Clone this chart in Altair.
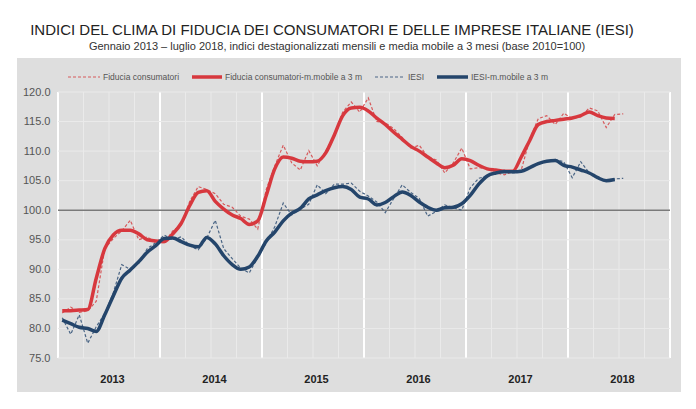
import altair as alt
import pandas as pd

# ---------------- data ----------------
YEARS = [2013, 2014, 2015, 2016, 2017, 2018]
SERIES = ["Fiducia consumatori", "Fiducia consumatori-m.mobile a 3 m",
          "IESI", "IESI-m.mobile a 3 m"]
Y_TICKS = [75, 80, 85, 90, 95, 100, 105, 110, 115, 120]
BASE = 100

# monthly, Jan 2013 - Jul 2018
CONS = [82.6, 83.6, 82.7, 83.0, 84.6, 93.5, 95.2, 96.5, 98.3, 95.0, 95.5, 94.5,
        94.5, 96.5, 97.5, 101.5, 104.0, 103.5, 102.8, 101.0, 100.5, 99.0, 98.5, 96.8,
        103.5, 107.5, 111.0, 108.0, 106.8, 110.1, 107.5, 110.0, 112.7, 116.6, 118.3, 116.6,
        119.0, 115.0, 114.8, 113.8, 112.3, 110.5, 111.0, 109.0, 108.5, 106.3, 108.0, 110.5,
        107.0, 107.2, 107.0, 106.3, 106.0, 106.5, 106.8, 112.0, 115.5, 116.0, 114.5, 116.4,
        115.5, 115.8, 117.3, 116.8, 114.0, 116.2, 116.3]
# 3-month moving average, Jan 2013 - Jun 2018
CONS_MA = [83.0, 83.0, 83.1, 83.2, 88.5, 93.5, 95.8, 96.6, 96.6, 96.0, 95.0, 94.8,
           94.7, 96.0, 97.8, 100.8, 103.0, 103.3, 101.5, 100.2, 99.2, 98.6, 97.6, 98.2,
           102.5, 107.0, 109.0, 108.8, 108.3, 108.2, 108.3, 109.7, 112.7, 116.0, 117.3, 117.4,
           116.8, 115.6, 114.5, 113.2, 112.0, 110.8, 110.0, 109.0, 108.0, 107.2, 107.6, 108.7,
           108.4, 107.6, 107.0, 106.8, 106.6, 106.6, 109.0, 111.8, 114.5, 115.0, 115.2, 115.4,
           115.6, 116.0, 116.6, 116.0, 115.6, 115.5]
IESI = [81.8, 79.0, 82.3, 77.5, 80.3, 82.5, 86.0, 90.8, 90.0, 91.0, 93.5, 94.5,
        95.8, 95.0, 95.5, 94.0, 93.3, 95.3, 98.3, 93.5, 91.8, 90.2, 89.4, 92.0,
        94.5, 97.2, 101.2, 99.2, 100.2, 101.0, 104.3, 102.8, 104.4, 104.4, 104.6, 103.2,
        102.4, 101.4, 99.6, 102.0, 104.3, 103.0, 102.0, 99.0, 99.8, 100.9, 100.4, 100.0,
        103.8, 105.4, 105.8, 106.3, 106.8, 106.3, 106.5, 107.2, 107.8, 108.3, 108.6, 108.2,
        105.5, 108.2, 106.3, 105.5, 104.8, 105.3, 105.4]
IESI_MA = [81.4, 80.8, 80.2, 80.0, 79.5, 82.3, 85.5, 88.5, 89.9, 91.3, 92.9, 94.0,
           95.2, 95.3, 94.7, 94.1, 93.8, 95.4, 94.3, 92.3, 90.8, 90.0, 90.4, 92.2,
           94.8, 96.3, 98.2, 99.5, 100.3, 101.9, 102.6, 103.3, 103.8, 104.0, 103.5, 102.2,
           101.9, 100.9, 101.3, 102.3, 103.1, 102.5, 101.4, 100.5, 100.0, 100.4, 100.5, 101.1,
           102.5, 104.4, 105.8, 106.3, 106.5, 106.5, 106.6, 107.2, 107.9, 108.3, 108.4, 107.6,
           107.3, 106.8, 106.3, 105.5, 105.0, 105.2]

TITLE = "INDICI DEL CLIMA DI FIDUCIA DEI CONSUMATORI E DELLE IMPRESE ITALIANE (IESI)"
SUBTITLE = ("Gennaio 2013 \u2013 luglio 2018, indici destagionalizzati mensili e media "
            "mobile a 3 mesi (base 2010=100)")

# ---------------- styling ----------------
FONT = "Liberation Sans, Arial, sans-serif"
RED = "#d7383e"
RED_D = "#d65a5c"
NAVY = "#24456b"
NAVY_D = "#4a6585"
COLORS = [RED_D, RED, NAVY_D, NAVY]
W, H = 612, 266

rows = []
for name, vals in zip(SERIES, [CONS, CONS_MA, IESI, IESI_MA]):
    for i, v in enumerate(vals):
        rows.append({"series": name, "t": i + 0.5, "v": v})
df = pd.DataFrame(rows)

n_months = 12 * len(YEARS)
xs = alt.Scale(domain=[0, n_months], nice=False, zero=False)
ys = alt.Scale(domain=[Y_TICKS[0], Y_TICKS[-1]], nice=False, zero=False)

x_axis = alt.Axis(values=[12 * k + 6 for k in range(len(YEARS))],
                  labelExpr=f"{YEARS[0]} + floor(datum.value / 12)",
                  grid=False, ticks=False, domain=False, title=None,
                  labelFont=FONT, labelFontSize=11, labelFontWeight="bold",
                  labelColor="#222", labelPadding=15, labelOffset=3, zindex=1)
y_axis = alt.Axis(values=Y_TICKS, format=".1f", grid=False, ticks=False,
                  domain=False, title=None, labelFont=FONT, labelFontSize=11,
                  labelColor="#555", labelPadding=8, zindex=1)

X = alt.X("t:Q", scale=xs, axis=x_axis)
Y = alt.Y("v:Q", scale=ys, axis=y_axis)
col = alt.Color("series:N", scale=alt.Scale(domain=SERIES, range=COLORS), legend=None)

one = pd.DataFrame({"a": [0]})

panel = alt.Chart(one).mark_rect(color="#dedede").encode(
    x=alt.value(-41), x2=alt.value(623), y=alt.value(-34), y2=alt.value(301))

vgrid_df = pd.DataFrame({"t": list(range(0, n_months + 1, 3))})
vgrid_df["w"] = [2.0 if t % 12 == 0 else 1.0 for t in vgrid_df["t"]]
vgrid_df["c"] = ["#ffffff" if t % 12 == 0 else "#eaeaea" for t in vgrid_df["t"]]
vgrid = alt.Chart(vgrid_df).mark_rule().encode(
    x=X, y=alt.value(0), y2=alt.value(H),
    strokeWidth=alt.StrokeWidth("w:Q", scale=None),
    color=alt.Color("c:N", scale=None))

hgrid = alt.Chart(pd.DataFrame({"v": Y_TICKS})).mark_rule(
    color="#eaeaea", strokeWidth=1).encode(y=Y, x=alt.value(0), x2=alt.value(W))

base_rule = alt.Chart(pd.DataFrame({"v": [BASE]})).mark_rule(
    color="#7a7a7a", strokeWidth=1.5).encode(y=Y, x=alt.value(0), x2=alt.value(W))

monthly = alt.Chart(df[df.series.isin([SERIES[0], SERIES[2]])]).mark_line(
    strokeWidth=1.2, strokeDash=[3, 2]).encode(x=X, y=Y, color=col)

ma = alt.Chart(df[df.series.isin([SERIES[1], SERIES[3]])]).mark_line(
    strokeWidth=3.5, interpolate="monotone").encode(x=X, y=Y, color=col)

# legend (drawn by hand)
LEG_Y = -15
leg_layers = []
leg_pos = [(10, 42, 45), (134, 164, 167), (317, 347, 350), (379, 410, 413)]
for (x0, x1, tx), name, c in zip(leg_pos, SERIES, COLORS):
    dashed = "m.mobile" not in name
    leg_layers.append(alt.Chart(one).mark_rule(
        color=c, strokeWidth=1.2 if dashed else 3.5,
        strokeDash=[3, 2] if dashed else [1, 0]).encode(
        x=alt.value(x0), x2=alt.value(x1), y=alt.value(LEG_Y)))
    leg_layers.append(alt.Chart(one).mark_text(
        align="left", baseline="middle", font=FONT, fontSize=8.5,
        color="#555").encode(x=alt.value(tx), y=alt.value(LEG_Y),
                             text=alt.value(name)))

title = alt.Chart(one).mark_text(
    align="center", baseline="middle", font=FONT, fontSize=15,
    color="#222").encode(x=alt.value(274), y=alt.value(-62), text=alt.value(TITLE))
subtitle = alt.Chart(one).mark_text(
    align="center", baseline="middle", font=FONT, fontSize=11,
    color="#333").encode(x=alt.value(279), y=alt.value(-45), text=alt.value(SUBTITLE))

chart = alt.layer(panel, vgrid, hgrid, base_rule, monthly, ma, *leg_layers,
                  title, subtitle).properties(
    width=W, height=H,
    autosize=alt.AutoSizeParams(type="none"),
    padding={"left": 50, "top": 84, "right": 18, "bottom": 34},
).configure_view(stroke=None)

chart.save("out.html", embed_options={"renderer": "svg", "actions": False})
